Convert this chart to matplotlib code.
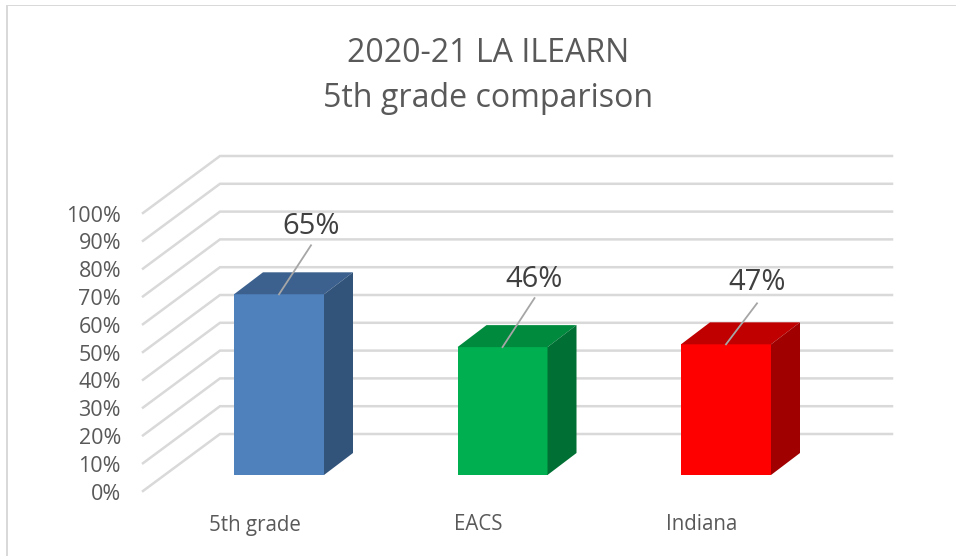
import matplotlib
matplotlib.use("Agg")
import matplotlib.pyplot as plt
from matplotlib.patches import Polygon, Rectangle


# =========================
# Data
# =========================

title = "2020-21 LA ILEARN\n5th grade comparison"
categories = ["5th grade", "EACS", "Indiana"]
values = [65, 46, 47]
value_labels = ["65%", "46%", "47%"]
tick_values = [0, 10, 20, 30, 40, 50, 60, 70, 80, 90, 100]
tick_labels = ["0%", "10%", "20%", "30%", "40%", "50%", "60%", "70%", "80%", "90%", "100%"]

front_colors = ["#4F81BD", "#00B050", "#FF0000"]
top_colors = ["#3C618F", "#008A3E", "#C00000"]
side_colors = ["#32547B", "#006F33", "#A00000"]


# =========================
# Figure and scales
# =========================

plt.rcParams["font.family"] = ["Open Sans", "DejaVu Sans"]

width_px, height_px = 956, 556
fig = plt.figure(figsize=(width_px / 100, height_px / 100), dpi=100)
ax = fig.add_axes([0, 0, 1, 1])

# one category = 223.5 px, 1% = 2.78 px
px_x = 223.5
px_y = 2.78
ax.set_xlim(-279 / px_x, (width_px - 279) / px_x)
ax.set_ylim(-(height_px - 475) / px_y, 475 / px_y)
ax.axis("off")

bar_width = 90 / px_x
bar_dx, bar_dy = 29 / px_x, 22 / px_y

# floor corners relative to the bar base line
floor_left = (143 - 279) / px_x
floor_back = (220 - 279) / px_x
floor_right = (892 - 279) / px_x
floor_front_y = -16 / px_y
floor_back_y = 41 / px_y


# =========================
# Walls and tick labels
# =========================

grid_color = "#D9D9D9"
for tick, label in zip(tick_values, tick_labels):
    ax.plot(
        [floor_left, floor_back, floor_right],
        [floor_front_y + tick, floor_back_y + tick, floor_back_y + tick],
        color=grid_color,
        lw=1.8,
        solid_joinstyle="miter",
        zorder=1,
    )
    ax.text(
        floor_left - 22 / px_x,
        floor_front_y + tick - 3 / px_y,
        label,
        ha="right",
        va="center",
        fontsize=15.5,
        color="#595959",
    )


# =========================
# Bars
# =========================

positions = range(len(categories))
ax.bar(positions, values, width=bar_width, color=front_colors, zorder=3)

for pos, value, top_c, side_c in zip(positions, values, top_colors, side_colors):
    left = pos - bar_width / 2
    right = pos + bar_width / 2
    top = Polygon(
        [
            (left, value),
            (right, value),
            (right + bar_dx, value + bar_dy),
            (left + bar_dx, value + bar_dy),
        ],
        closed=True,
        facecolor=top_c,
        edgecolor="none",
        zorder=3,
    )
    side = Polygon(
        [
            (right, 0),
            (right + bar_dx, bar_dy),
            (right + bar_dx, value + bar_dy),
            (right, value),
        ],
        closed=True,
        facecolor=side_c,
        edgecolor="none",
        zorder=3,
    )
    ax.add_patch(top)
    ax.add_patch(side)


# =========================
# Data labels with leader lines
# =========================

leader_dx = [32, 32, 31]
leader_dy = [49, 49, 41]
label_dy = [68, 68, 62]

for pos, value, text, ldx, ldy, tdy in zip(positions, values, value_labels, leader_dx, leader_dy, label_dy):
    ax.plot(
        [pos, pos + ldx / px_x],
        [value, value + ldy / px_y],
        color="#A6A6A6",
        lw=1.3,
        zorder=4,
    )
    ax.text(
        pos + ldx / px_x,
        value + tdy / px_y,
        text,
        ha="center",
        va="center",
        fontsize=21,
        color="#404040",
        zorder=5,
    )


# =========================
# Category labels and title
# =========================

for pos, cat in zip(positions, categories):
    ax.text(
        pos - 24 / px_x,
        -50 / px_y,
        cat,
        ha="center",
        va="center",
        fontsize=14.8,
        color="#595959",
    )

fig.text(
    488 / width_px,
    1 - 76 / height_px,
    title,
    ha="center",
    va="center",
    fontsize=23.1,
    color="#595959",
    linespacing=1.48,
)

# chart frame, only the top and left edges are in the crop
fig.add_artist(Rectangle((6 / width_px, 0), 2 / width_px, 1 - 5 / height_px, transform=fig.transFigure, color=grid_color, lw=0))
fig.add_artist(Rectangle((6 / width_px, 1 - 6 / height_px), 1, 1 / height_px, transform=fig.transFigure, color=grid_color, lw=0))

fig.savefig("out.png", dpi=100)
